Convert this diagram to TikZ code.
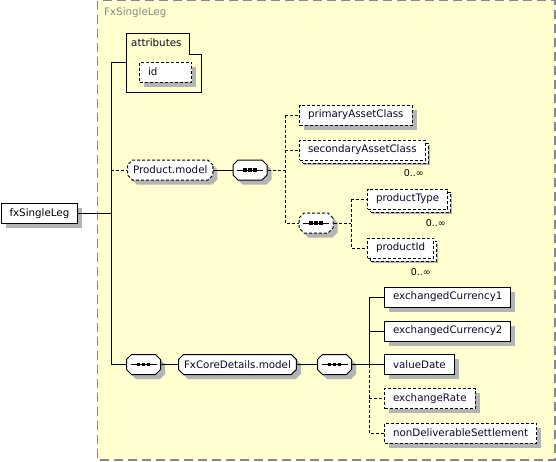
\documentclass[tikz,border=0pt]{standalone}
\usepackage{fontspec}
\setmainfont{DejaVu Sans}
\usetikzlibrary{shapes.misc,shadows}
\definecolor{groupFill}{RGB}{255,255,208}
\definecolor{groupLine}{RGB}{135,135,135}
\definecolor{shadowGray}{RGB}{180,180,180}
\definecolor{nameInk}{RGB}{10,10,40}

\tikzset{
  xsdfont/.style={font=\fontsize{10.3}{12}\selectfont},
  xsdshadow/.style={general shadow={fill=shadowGray, shadow xshift=4.5pt, shadow yshift=-4.5pt}},
  elem/.style={draw, fill=white, rectangle, line width=1pt, minimum height=20pt,
    inner xsep=8.5pt, inner ysep=0pt, anchor=west, xsdfont, text=nameInk, xsdshadow},
  optelem/.style={elem, dash pattern=on 3pt off 2pt},
  multi/.style={general shadow={fill=white, draw=black, line width=1pt,
    dash pattern=on 3pt off 2pt, shadow xshift=3pt, shadow yshift=-3pt}},
  modelgrp/.style={draw, fill=white, chamfered rectangle, chamfered rectangle xsep=2.5pt,
    chamfered rectangle ysep=2.5pt, line width=1pt, minimum height=20pt, inner xsep=3pt,
    inner ysep=0pt, anchor=west, xsdfont, text=nameInk, xsdshadow},
  seqbox/.style={draw, fill=white, chamfered rectangle, chamfered rectangle xsep=2.5pt,
    chamfered rectangle ysep=2.5pt, line width=1pt, inner xsep=14.5pt, inner ysep=7.5pt,
    xsdshadow},
  occurs/.style={anchor=east, inner sep=0pt, font=\fontsize{9.5}{11}\selectfont},
  conn/.style={line width=1pt},
  optconn/.style={line width=1pt, dash pattern=on 3pt off 2pt},
}

% line with three dots inside a compositor
\newcommand{\seqmark}[1]{%
  \draw[line width=1pt] ([xshift=-13pt]#1.center) -- ([xshift=13pt]#1.center);
  \foreach \dx in {-5,0,5}
    \fill ([xshift=\dx pt]#1.center) +(-1.6,-1.6) rectangle +(1.6,1.6);
}

\begin{document}
\begin{tikzpicture}[x=1pt,y=-1pt]
\useasboundingbox (0,0) rectangle (556,461);

% group FxSingleLeg
\draw[fill=groupFill, draw=groupLine, line width=1.3pt, dash pattern=on 9pt off 5pt]
  (97.5,0.5) rectangle (555,460);
\node[anchor=west, inner sep=0pt, xsdfont, text=groupLine] (grplbl) at (104,13) {FxSingleLeg};

% root element
\node[elem, text=black] (leg) at (0.5,213.5) {fxSingleLeg};

% attributes
\node[anchor=west, inner sep=0pt, xsdfont, text=nameInk] (attr) at (131,43) {attributes};
\draw[line width=1pt] (126,33) -- (189,33) -- (189,54) -- (201,54) -- (201,92) -- (126,92) -- cycle;
\coordinate (attrL) at (126,62);
\node[optelem, text width=35pt, align=left] (id) at (139,72) {id};

% Product.model
\node[modelgrp, dash pattern=on 3pt off 2pt] (pm) at (127,170) {Product.model};
\node[seqbox] (seqA) at (250,170) {};
\node[optelem] (pac) at (299,115) {primaryAssetClass};
\node[optelem, multi] (sac) at (299,150) {secondaryAssetClass};
\node[occurs] (sacocc) at (424,173) {0..∞};
\node[seqbox, dash pattern=on 3pt off 2pt] (seqB) at (316,223) {};
\node[optelem, multi] (ptype) at (367,199) {productType};
\node[occurs] (ptypeocc) at (446,223) {0..∞};
\node[optelem, multi] (pid) at (367,248) {productId};
\node[occurs] (pidocc) at (431,272) {0..∞};

% FxCoreDetails.model
\node[seqbox] (seqC) at (143.5,364.5) {};
\node[modelgrp] (fcd) at (178,364.5) {FxCoreDetails.model};
\node[seqbox] (seqD) at (334.5,364.5) {};
\node[elem] (ec1) at (384,297) {exchangedCurrency1};
\node[elem] (ec2) at (384,331) {exchangedCurrency2};
\node[elem] (vdate) at (384,364.5) {valueDate};
\node[optelem] (xrate) at (384,398.5) {exchangeRate};
\node[optelem] (ndsett) at (384,433) {nonDeliverableSettlement};

\seqmark{seqA}
\seqmark{seqB}
\seqmark{seqC}
\seqmark{seqD}

% connectors
\coordinate (trunk) at (111,0);
\coordinate (barA) at (285,0);
\coordinate (barB) at (351,0);
\coordinate (barC) at (369,0);

\draw[conn] (leg.east) -- (leg.east -| trunk);
\draw[conn] (attrL -| trunk) -- (seqC.west -| trunk) -- (seqC.west);
\draw[conn] (attrL -| trunk) -- (attrL);
\draw[optconn] (pm.west -| trunk) -- (pm.west);
\draw[conn] (pm.east) -- (seqA.west);
\draw[optconn] (seqA.east) -- (seqA.east -| barA);
\draw[optconn] (pac.west -| barA) -- (seqB.west -| barA) -- (seqB.west);
\draw[optconn] (pac.west -| barA) -- (pac.west);
\draw[optconn] (sac.west -| barA) -- (sac.west);
\draw[optconn] (seqB.east) -- (seqB.east -| barB);
\draw[optconn] (ptype.west -| barB) -- (pid.west -| barB) -- (pid.west);
\draw[optconn] (ptype.west -| barB) -- (ptype.west);
\draw[conn] (seqC.east) -- (fcd.west);
\draw[conn] (fcd.east) -- (seqD.west);
\draw[conn] (seqD.east) -- (seqD.east -| barC);
\draw[conn] (ec1.west -| barC) -- (vdate.west -| barC) -- (vdate.west);
\draw[conn] (ec1.west -| barC) -- (ec1.west);
\draw[conn] (ec2.west -| barC) -- (ec2.west);
\draw[optconn] (vdate.west -| barC) -- (ndsett.west -| barC) -- (ndsett.west);
\draw[optconn] (xrate.west -| barC) -- (xrate.west);
\end{tikzpicture}
\end{document}
